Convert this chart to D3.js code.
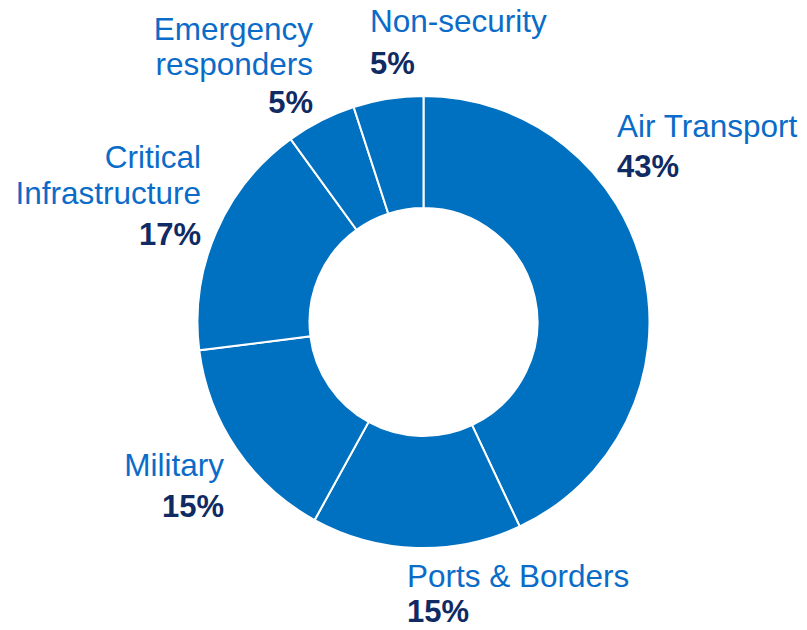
<!DOCTYPE html>
<html>
<head>
<meta charset="utf-8">
<script src="https://cdn.jsdelivr.net/npm/d3@7"></script>
<style>
  html, body { margin: 0; padding: 0; background: #ffffff; }
  svg { display: block; }
  .name { font-family: "Liberation Sans", Arial, sans-serif; font-size: 31.5px; fill: #0a6cc8; }
  .pct { font-family: "Liberation Sans", Arial, sans-serif; font-size: 31px; font-weight: bold; fill: #102a63; }
</style>
</head>
<body>
<svg id="chart" width="807" height="630"></svg>
<script>
// Segments in clockwise order from 12 o'clock
const categories = ["Air Transport", "Ports & Borders", "Military", "Critical Infrastructure", "Emergency responders", "Non-security"];
const shares = [43, 15, 15, 17, 5, 5];
// Label lines per segment (category name wrapped as shown)
const labelLines = [
  ["Air Transport"],
  ["Ports & Borders"],
  ["Military"],
  ["Critical", "Infrastructure"],
  ["Emergency", "responders"],
  ["Non-security"]
];

const cx = 423.5, cy = 322;
const outerR = 226, innerR = 114;

const svg = d3.select("#chart");
const g = svg.append("g").attr("transform", `translate(${cx},${cy})`);

const data = categories.map((c, i) => ({ name: c, value: shares[i], lines: labelLines[i] }));

const pie = d3.pie().value(d => d.value).sort(null);
const arc = d3.arc().innerRadius(innerR).outerRadius(outerR);

g.selectAll("path.slice")
  .data(pie(data))
  .join("path")
  .attr("class", "slice")
  .attr("d", arc)
  .attr("fill", "#0070c0")
  .attr("stroke", "#ffffff")
  .attr("stroke-width", 2);

// Label placement: anchor x, text anchor, baselines of name lines and percent line
const labelLayout = [
  { x: 617, anchor: "start", nameY: [137], pctY: 177 },
  { x: 407, anchor: "start", nameY: [587], pctY: 622 },
  { x: 224, anchor: "end", nameY: [476], pctY: 517 },
  { x: 201, anchor: "end", nameY: [168, 204], pctY: 245 },
  { x: 313, anchor: "end", nameY: [40, 75], pctY: 113 },
  { x: 370, anchor: "start", nameY: [32], pctY: 74 }
];

const labels = svg.append("g").attr("class", "labels");
data.forEach((d, i) => {
  const L = labelLayout[i];
  d.lines.forEach((line, j) => {
    labels.append("text")
      .attr("class", "name")
      .attr("x", L.x)
      .attr("y", L.nameY[j])
      .attr("text-anchor", L.anchor)
      .text(line);
  });
  labels.append("text")
    .attr("class", "pct")
    .attr("x", L.x)
    .attr("y", L.pctY)
    .attr("text-anchor", L.anchor)
    .text(d3.format("d")(d.value) + "%");
});
</script>
</body>
</html>
